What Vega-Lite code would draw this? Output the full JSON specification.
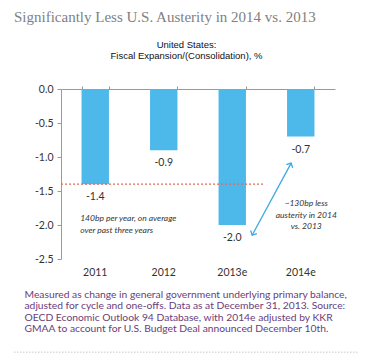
{
  "$schema": "https://vega.github.io/schema/vega-lite/v6.json",
  "width": 274,
  "height": 170,
  "autosize": {"type": "none"},
  "padding": {"left": 61, "top": 89, "right": 40, "bottom": 95},
  "title": {
    "text": "Significantly Less U.S. Austerity in 2014 vs. 2013",
    "anchor": "start",
    "frame": "group",
    "font": "Liberation Serif",
    "fontSize": 15,
    "fontWeight": "normal",
    "color": "#7f7f7f",
    "dx": -47,
    "dy": -10
  },
  "datasets": {
    "fiscal": [
      {"year": "2011", "value": -1.4},
      {"year": "2012", "value": -0.9},
      {"year": "2013e", "value": -2.0},
      {"year": "2014e", "value": -0.7}
    ],
    "note1": [{"xi": 0.28, "y": -1.9, "text": "140bp per year, on average\nover past three years"}],
    "note2": [{"xi": 3.58, "y": -1.68, "text": "~130bp less\nausterity in 2014\nvs. 2013"}],
    "avg": [{"x0": 0, "x1": 2.95, "y": -1.4}],
    "arrow": [{"x0": 2.79, "y0": -2.15, "x1": 3.36, "y1": -1.09}],
    "sep": [{"x0": -0.686, "x1": 4.35, "y": -3.87}]
  },
  "resolve": {"scale": {"x": "independent"}},
  "encoding": {
    "y": {
      "type": "quantitative",
      "scale": {"domain": [-2.5, 0], "nice": false, "zero": false},
      "axis": {
        "values": [0, -0.5, -1, -1.5, -2, -2.5],
        "format": ".1f",
        "grid": false,
        "title": null,
        "domainColor": "#9a9a9a",
        "tickColor": "#9a9a9a",
        "tickSize": 4,
        "labelPadding": 4,
        "labelFont": "Lato",
        "labelFontSize": 10.5,
        "labelColor": "#333333"
      }
    }
  },
  "layer": [
    {
      "data": {"name": "fiscal"},
      "mark": {"type": "bar", "color": "#4db8ea"},
      "encoding": {
        "x": {
          "field": "year",
          "type": "nominal",
          "sort": null,
          "scale": {"paddingInner": 0.6, "paddingOuter": 0.3},
          "axis": {
            "orient": "bottom",
            "domain": false,
            "ticks": false,
            "labelAngle": 0,
            "labelPadding": 8,
            "labelFont": "Lato",
            "labelFontSize": 10.5,
            "labelColor": "#333333",
            "title": [
              "Measured as change in general government underlying primary balance,",
              "adjusted for cycle and one-offs. Data as at December 31, 2013. Source:",
              "OECD Economic Outlook 94 Database, with 2014e adjusted by KKR",
              "GMAA to account for U.S. Budget Deal announced December 10th."
            ],
            "titleFont": "Lato",
            "titleFontSize": 10.3,
            "titleFontWeight": "normal",
            "titleColor": "#6a3d7a",
            "titleAlign": "left",
            "titleBaseline": "top",
            "titleX": -37,
            "titleY": 30,
            "titleLineHeight": 11.6
          }
        },
        "y": {"field": "value"}
      }
    },
    {
      "data": {"name": "fiscal"},
      "mark": {"type": "text", "dy": 13, "baseline": "middle", "font": "Lato", "fontSize": 10.5, "color": "#333333"},
      "encoding": {
        "x": {
          "field": "year",
          "type": "nominal",
          "sort": null,
          "scale": {"paddingInner": 0.6, "paddingOuter": 0.3},
          "axis": {
            "orient": "top",
            "domain": true,
            "domainColor": "#9a9a9a",
            "ticks": true,
            "tickBand": "extent",
            "tickColor": "#9a9a9a",
            "tickSize": 3,
            "labels": false,
            "title": ["United States:", "Fiscal Expansion/(Consolidation), %"],
            "titleFont": "Liberation Sans",
            "titleFontSize": 9.5,
            "titleFontWeight": "normal",
            "titleColor": "#111111",
            "titleAlign": "center",
            "titleBaseline": "top",
            "titleX": 125,
            "titleY": -50,
            "titleLineHeight": 11.5
          }
        },
        "y": {"field": "value"},
        "text": {"field": "value", "type": "quantitative", "format": ".1f"}
      }
    },
    {
      "data": {"name": "avg"},
      "mark": {"type": "rule", "color": "#e8685a", "strokeWidth": 1.2, "strokeDash": [2, 2]},
      "encoding": {
        "x": {"field": "x0", "type": "quantitative", "scale": {"domain": [0, 4], "nice": false, "zero": false}, "axis": null},
        "x2": {"field": "x1"},
        "y": {"field": "y"}
      }
    },
    {
      "data": {"name": "arrow"},
      "mark": {"type": "rule", "color": "#3aa9e6", "strokeWidth": 1.3},
      "encoding": {
        "x": {"field": "x0", "type": "quantitative", "scale": {"domain": [0, 4], "nice": false, "zero": false}, "axis": null},
        "x2": {"field": "x1"},
        "y": {"field": "y0"},
        "y2": {"field": "y1"}
      }
    },
    {
      "data": {"name": "arrow"},
      "mark": {"type": "point", "shape": "M-1,1L0,0L1,1", "filled": false, "color": "#3aa9e6", "strokeWidth": 1.3, "size": 50, "angle": 28, "opacity": 1},
      "encoding": {
        "x": {"field": "x1", "type": "quantitative", "scale": {"domain": [0, 4], "nice": false, "zero": false}, "axis": null},
        "y": {"field": "y1"}
      }
    },
    {
      "data": {"name": "arrow"},
      "mark": {"type": "point", "shape": "M-1,1L0,0L1,1", "filled": false, "color": "#3aa9e6", "strokeWidth": 1.3, "size": 50, "angle": 208, "opacity": 1},
      "encoding": {
        "x": {"field": "x0", "type": "quantitative", "scale": {"domain": [0, 4], "nice": false, "zero": false}, "axis": null},
        "y": {"field": "y0"}
      }
    },
    {
      "data": {"name": "note1"},
      "mark": {"type": "text", "align": "left", "lineBreak": "\n", "font": "Lato", "fontStyle": "italic", "fontSize": 8.5, "color": "#333333", "baseline": "middle", "lineHeight": 11.5},
      "encoding": {
        "x": {"field": "xi", "type": "quantitative", "scale": {"domain": [0, 4], "nice": false, "zero": false}, "axis": null},
        "y": {"field": "y"},
        "text": {"field": "text"}
      }
    },
    {
      "data": {"name": "note2"},
      "mark": {"type": "text", "align": "center", "lineBreak": "\n", "font": "Lato", "fontStyle": "italic", "fontSize": 8.5, "color": "#333333", "baseline": "middle", "lineHeight": 11.5},
      "encoding": {
        "x": {"field": "xi", "type": "quantitative", "scale": {"domain": [0, 4], "nice": false, "zero": false}, "axis": null},
        "y": {"field": "y"},
        "text": {"field": "text"}
      }
    },
    {
      "data": {"name": "sep"},
      "mark": {"type": "rule", "color": "#c8c8c8", "strokeWidth": 1, "strokeDash": [1.5, 1.5]},
      "encoding": {
        "x": {"field": "x0", "type": "quantitative", "scale": {"domain": [0, 4], "nice": false, "zero": false}, "axis": null},
        "x2": {"field": "x1"},
        "y": {"field": "y"}
      }
    }
  ],
  "config": {
    "view": {"stroke": null},
    "locale": {"number": {"decimal": ".", "thousands": ",", "grouping": [3], "currency": ["$", ""], "minus": "-"}}
  }
}
